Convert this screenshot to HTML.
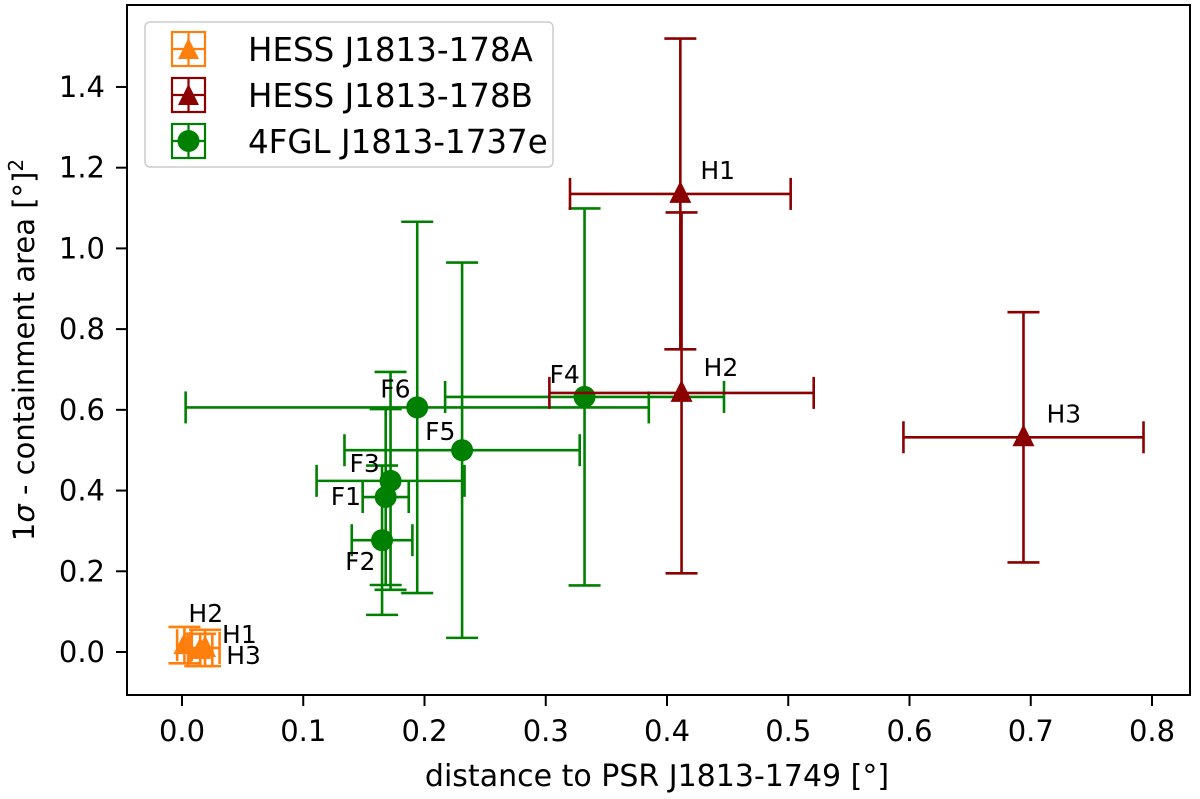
<!DOCTYPE html>
<html><head><meta charset="utf-8"><style>
html,body{margin:0;padding:0;background:#fff;}
svg{display:block;font-family:"DejaVu Sans","Liberation Sans",sans-serif;}
</style></head><body>
<svg id="chart" width="1200" height="799" viewBox="0 0 1200 799">
<rect x="0" y="0" width="1200" height="799" fill="#fff"/>
<g id="marks"></g>
<rect x="127" y="5" width="1063" height="690" fill="none" stroke="#000" stroke-width="2"/>
<g id="axes"></g>
<text x="657" y="786" font-size="30" text-anchor="middle">distance to PSR J1813-1749 [°]</text>
<text transform="translate(34,350) rotate(-90)" font-size="29" text-anchor="middle">1<tspan font-style="italic">σ</tspan> - containment area [°]<tspan dy="-11" font-size="20">2</tspan></text>
<g>
<rect x="145" y="22" width="408" height="145" rx="5" fill="#fff" fill-opacity="0.85" stroke="#ccc" stroke-width="1.5"/>
<g>
<rect x="172" y="32" width="33" height="34" fill="none" stroke="#ff7f0e" stroke-width="2.2"/>
<line x1="188.5" y1="32" x2="188.5" y2="66" stroke="#ff7f0e" stroke-width="2.2"/>
<line x1="172" y1="49" x2="205" y2="49" stroke="#ff7f0e" stroke-width="2.2"/>
<polygon points="188.5,38 178,59 199,59" fill="#ff7f0e"/>
<text x="248" y="61" font-size="32.5">HESS J1813-178A</text></g>
<g>
<rect x="172" y="78" width="33" height="34" fill="none" stroke="#8b0000" stroke-width="2.2"/>
<line x1="188.5" y1="78" x2="188.5" y2="112" stroke="#8b0000" stroke-width="2.2"/>
<line x1="172" y1="95" x2="205" y2="95" stroke="#8b0000" stroke-width="2.2"/>
<polygon points="188.5,84 178,105 199,105" fill="#8b0000"/>
<text x="248" y="107" font-size="32.5">HESS J1813-178B</text></g>
<g>
<rect x="172" y="124" width="33" height="34" fill="none" stroke="#008000" stroke-width="2.2"/>
<line x1="188.5" y1="124" x2="188.5" y2="158" stroke="#008000" stroke-width="2.2"/>
<line x1="172" y1="141" x2="205" y2="141" stroke="#008000" stroke-width="2.2"/>
<circle cx="188.5" cy="141" r="11" fill="#008000"/>
<text x="248" y="153" font-size="32.5">4FGL J1813-1737e</text></g>
</g>
</svg>
<script>
const xTicks=[0,0.1,0.2,0.3,0.4,0.5,0.6,0.7,0.8];
const yTicks=[0,0.2,0.4,0.6,0.8,1.0,1.2,1.4];
// 4FGL green points
const fNames=["F1","F2","F3","F4","F5","F6"];
const fX=[0.168,0.165,0.172,0.332,0.231,0.194];
const fY=[0.384,0.277,0.424,0.632,0.50,0.606];
const fXerr=[0.019,0.025,0.061,0.115,0.097,0.191];
const fYerr=[0.218,0.185,0.27,0.467,0.465,0.46];
// HESS B red
const bNames=["H1","H2","H3"];
const bX=[0.411,0.412,0.694];
const bY=[1.135,0.642,0.532];
const bXerr=[0.091,0.109,0.099];
const bYerr=[0.385,0.447,0.31];
// HESS A orange
const aNames=["H1","H2","H3"];
const aX=[0.019,0.002,0.015];
const aY=[0.01,0.017,0.005];
const aXerr=[0.012,0.006,0.01];
const aYerr=[0.045,0.045,0.04];

const sx=v=>182+v*1212.5;
const sy=v=>652-v*403.6;
const NS="http://www.w3.org/2000/svg";
function mk(parent,tag,attrs){const e=document.createElementNS(NS,tag);for(const k in attrs)e.setAttribute(k,attrs[k]);parent.appendChild(e);return e;}
const axes=document.getElementById('axes');
xTicks.forEach(t=>{
 const l=mk(axes,'line',{x1:sx(t),x2:sx(t),y1:695,y2:706,stroke:'#000','stroke-width':2});
 
 
 const tx=mk(axes,'text',{x:sx(t),y:741,'font-size':29,'text-anchor':'middle'});
 tx.textContent=t.toFixed(1);
 
 
});
yTicks.forEach(t=>{
 const l=mk(axes,'line',{x1:116,x2:127,y1:sy(t),y2:sy(t),stroke:'#000','stroke-width':2});
 
 
 const tx=mk(axes,'text',{x:105,y:sy(t)+10,'font-size':29,'text-anchor':'end'});
 tx.textContent=t.toFixed(1);
 
 
});
const marks=document.getElementById('marks');
function series(names,X,Y,XE,YE,color,shape,labelOff,prefix){
 names.forEach((n,i)=>{
  const g=mk(marks,'g',{});
  
  
  const cx=sx(X[i]),cy=sy(Y[i]);
  const x0=sx(X[i]-XE[i]),x1=sx(X[i]+XE[i]),y0=sy(Y[i]+YE[i]),y1=sy(Y[i]-YE[i]);
  const st={stroke:color,'stroke-width':2.6};
  mk(g,'line',Object.assign({x1:x0,x2:x1,y1:cy,y2:cy},st));
  mk(g,'line',Object.assign({x1:cx,x2:cx,y1:y0,y2:y1},st));
  mk(g,'line',Object.assign({x1:x0,x2:x0,y1:cy-16,y2:cy+16},st));
  mk(g,'line',Object.assign({x1:x1,x2:x1,y1:cy-16,y2:cy+16},st));
  mk(g,'line',Object.assign({x1:cx-16,x2:cx+16,y1:y0,y2:y0},st));
  mk(g,'line',Object.assign({x1:cx-16,x2:cx+16,y1:y1,y2:y1},st));
  if(shape==='c') mk(g,'circle',{cx:cx,cy:cy,r:11,fill:color});
  else mk(g,'polygon',{points:`${cx},${cy-13} ${cx-11},${cy+9} ${cx+11},${cy+9}`,fill:color});
  const o=labelOff[i];
  const t=mk(g,'text',{x:cx+o[0],y:cy+o[1],'font-size':25,fill:'#000'});
  t.textContent=n;
 });
}
series(fNames,fX,fY,fXerr,fYerr,'#008000','c',[[-55,8],[-37,30],[-41,-9],[-35,-14],[-37,-10],[-37,-10]],'fgl');
series(bNames,bX,bY,bXerr,bYerr,'#8b0000','t',[[20,-15],[22,-17],[23,-15]],'hess-b');
series(aNames,aX,aY,aXerr,aYerr,'#ff7f0e','t',[[17,-5],[4,-23],[26,14]],'hess-a');
</script>
</body></html>
